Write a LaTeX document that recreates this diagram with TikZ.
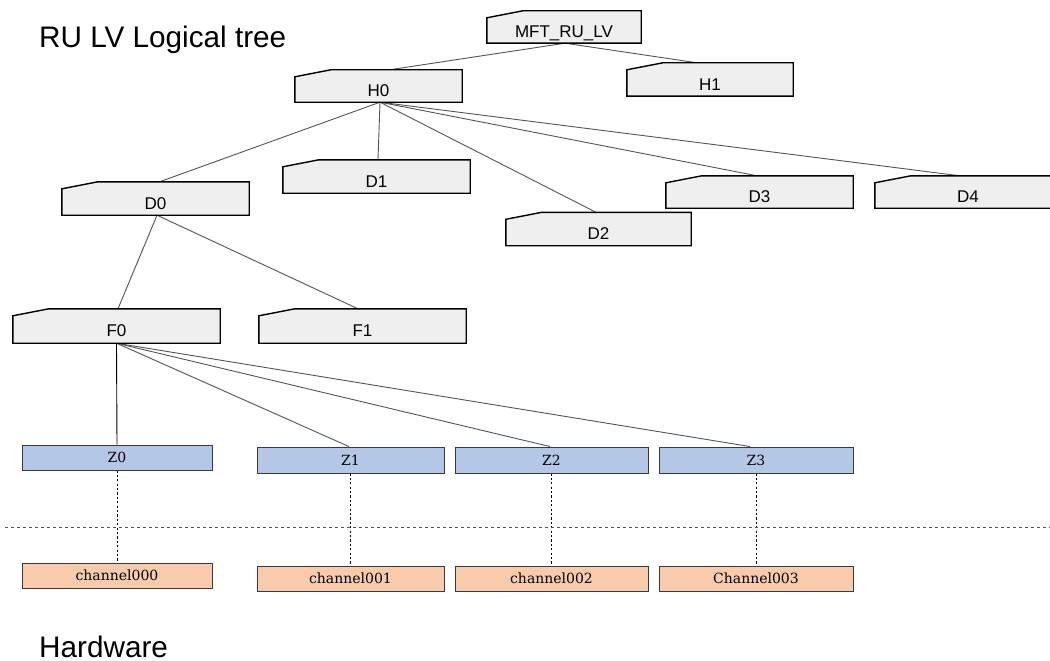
\documentclass[tikz,border=0pt]{standalone}
\usepackage{fontspec}
\usetikzlibrary{backgrounds}
\newfontfamily\treefont{Liberation Sans}
\newfontfamily\boxfont{DejaVu Serif}
\definecolor{mifill}{HTML}{EFEFEF}
\definecolor{zfill}{HTML}{B4C7E7}
\definecolor{chfill}{HTML}{F8CBAD}
\definecolor{edgegray}{HTML}{555555}
\definecolor{boxedge}{HTML}{3A3A3A}
\begin{document}
\begin{tikzpicture}[x=1pt,y=-1pt,
  mi/.style={rectangle, inner sep=0pt, minimum height=33pt,
    font=\treefont\fontsize{17}{17}\selectfont, text height=21pt, text depth=0pt},
  mishape/.style={draw=black, fill=mifill, line width=1.4pt, line join=miter},
  zbox/.style={rectangle, draw=boxedge, fill=zfill, line width=0.9pt, inner sep=0pt,
    minimum height=26pt, font=\boxfont\fontsize{14}{14}\selectfont},
  chbox/.style={rectangle, draw=boxedge, fill=chfill, line width=0.9pt, inner sep=0pt,
    minimum height=25pt, font=\boxfont\fontsize{14}{14}\selectfont},
  tree/.style={draw=edgegray, line width=0.9pt},
  hw/.style={draw=black, line width=0.9pt, dash pattern=on 2.2pt off 2.2pt},
  title/.style={anchor=base west, inner sep=0pt, font=\treefont\fontsize{29.7}{29.7}\selectfont}]
\useasboundingbox (0,0) rectangle (1050,661);

% section titles
\node[title] (ttree) at (39,48) {RU LV Logical tree};
\node[title] (thw) at (39,657) {Hardware};

% logical tree nodes
\node[mi, minimum width=154pt, minimum height=32pt] (M) at (564,27) {MFT\_RU\_LV};
\node[mi, minimum width=167pt, minimum height=32pt] (H0) at (378.5,86) {H0};
\node[mi, minimum width=166pt] (H1) at (710,79.5) {H1};
\node[mi, minimum width=187pt] (D0) at (155.5,198.5) {D0};
\node[mi, minimum width=187pt] (D1) at (376.5,176.5) {D1};
\node[mi, minimum width=185pt] (D2) at (598.5,229) {D2};
\node[mi, minimum width=187pt, minimum height=32pt] (D3) at (759.5,192) {D3};
\node[mi, minimum width=186pt, minimum height=32pt] (D4) at (968,192) {D4};
\node[mi, minimum width=207pt, minimum height=34pt] (F0) at (116.5,326) {F0};
\node[mi, minimum width=207pt, minimum height=34pt] (F1) at (362.5,326) {F1};

% zones and hardware channels
\node[zbox, minimum width=190pt, minimum height=25pt] (Z0) at (117,457.5) {Z0};
\node[zbox, minimum width=187pt] (Z1) at (350.5,460) {Z1};
\node[zbox, minimum width=193pt] (Z2) at (551.5,460) {Z2};
\node[zbox, minimum width=194pt] (Z3) at (756,460) {Z3};
\node[chbox, minimum width=190pt] (C0) at (117,575.5) {channel000};
\node[chbox, minimum width=187pt] (C1) at (350.5,578.5) {channel001};
\node[chbox, minimum width=193pt] (C2) at (551.5,578.5) {channel002};
\node[chbox, minimum width=194pt] (C3) at (756,578.5) {Channel003};

% boundary between logical tree and hardware
\coordinate (sepL) at (5,527);
\coordinate (sepR) at (1050,527);

\begin{pgfonlayer}{background}
  \fill[white] (0,0) rectangle (1050,661);
  % tree connectors
  \draw[tree] ([xshift=1pt]M.south) -- ([xshift=11pt]H0.north);
  \draw[tree] ([xshift=1pt]M.south) -- ([xshift=-13pt]H1.north);
  \foreach \d/\s in {D0/4, D1/1.5, D2/-2.5, D3/-2.5, D4/-8}
    \draw[tree] ([xshift=1.5pt]H0.south) -- ([xshift=\s pt]\d.north);
  \draw[tree] ([xshift=1.5pt]D0.south) -- ([xshift=1.5pt]F0.north);
  \draw[tree] ([xshift=1.5pt]D0.south) -- ([xshift=-4.5pt]F1.north);
  \draw[draw=black, line width=0.9pt] (F0.south) -- (Z0.north);
  \foreach \z/\s in {Z1/-1.5, Z2/-1.5, Z3/-6}
    \draw[tree] (F0.south) -- ([xshift=\s pt]\z.north);
  % zone to channel mapping
  \foreach \z/\c in {Z0/C0, Z1/C1, Z2/C2, Z3/C3}
    \draw[hw] (\z.south) -- (\c.north);
  \draw[draw=edgegray, line width=1pt, dash pattern=on 3pt off 3pt] (sepL) -- (sepR);
  % manual-input outlines of the tree nodes
  \foreach \n in {M,H0,H1,D0,D1,D2,D3,D4,F0,F1}
    \draw[mishape] (\n.south west) -- ([yshift=-7pt]\n.north west)
      -- ([xshift=36pt]\n.north west) -- (\n.north east) -- (\n.south east) -- cycle;
\end{pgfonlayer}
\end{tikzpicture}
\end{document}
